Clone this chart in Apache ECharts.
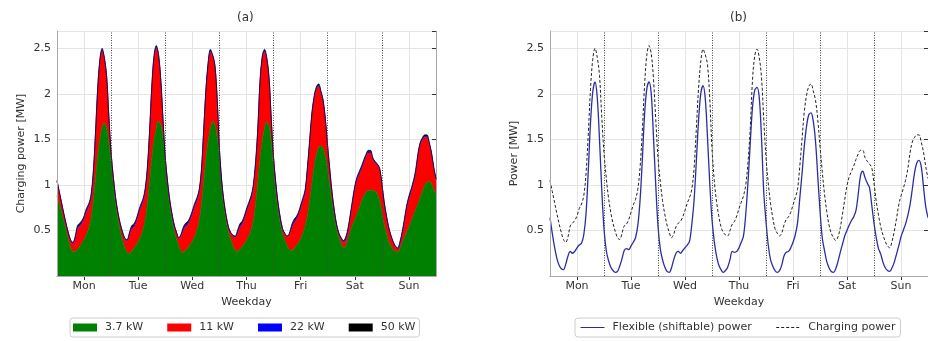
<!DOCTYPE html>
<html>
<head>
<meta charset="utf-8">
<script src="https://cdn.jsdelivr.net/npm/echarts/dist/echarts.min.js"></script>
<style>
  html, body { margin: 0; padding: 0; background: #fff; }
  #chart { width: 928px; height: 341px; }
</style>
</head>
<body>
<div id="chart"></div>
<script>
// one week, hourly values (h = 0 .. 168)
var days = ['Mon', 'Tue', 'Wed', 'Thu', 'Fri', 'Sat', 'Sun'];

// 3.7 kW layer (green)
var p37 = [
  0.88, 0.79, 0.70, 0.60, 0.50, 0.40, 0.31, 0.27, 0.27, 0.29, 0.32, 0.36, 0.40, 0.45, 0.52, 0.62, 0.80, 1.05, 1.30, 1.50, 1.63, 1.68, 1.62, 1.45,
  1.24, 1.00, 0.78, 0.62, 0.50, 0.40, 0.31, 0.26, 0.25, 0.27, 0.30, 0.34, 0.38, 0.43, 0.50, 0.60, 0.78, 1.02, 1.28, 1.48, 1.62, 1.70, 1.66, 1.50,
  1.25, 0.98, 0.76, 0.61, 0.49, 0.40, 0.33, 0.27, 0.26, 0.28, 0.31, 0.34, 0.38, 0.43, 0.50, 0.60, 0.78, 1.02, 1.28, 1.48, 1.62, 1.70, 1.66, 1.52,
  1.30, 0.98, 0.76, 0.60, 0.48, 0.40, 0.33, 0.28, 0.27, 0.29, 0.32, 0.35, 0.39, 0.44, 0.50, 0.60, 0.78, 1.02, 1.28, 1.48, 1.62, 1.69, 1.64, 1.45,
  1.18, 0.92, 0.72, 0.57, 0.46, 0.39, 0.33, 0.29, 0.28, 0.30, 0.33, 0.36, 0.41, 0.47, 0.55, 0.66, 0.82, 1.02, 1.20, 1.33, 1.41, 1.43, 1.40, 1.30,
  1.15, 0.97, 0.80, 0.64, 0.51, 0.42, 0.35, 0.31, 0.33, 0.40, 0.48, 0.56, 0.62, 0.68, 0.75, 0.82, 0.88, 0.92, 0.94, 0.94, 0.94, 0.93, 0.90, 0.82,
  0.70, 0.57, 0.47, 0.38, 0.33, 0.29, 0.27, 0.26, 0.30, 0.36, 0.42, 0.48, 0.54, 0.60, 0.67, 0.73, 0.79, 0.86, 0.93, 0.99, 1.03, 1.04, 1.01, 0.95,
  0.89
];

// 11 kW layer (red), band thickness
var p11 = [
  0.16, 0.13, 0.10, 0.08, 0.07, 0.07, 0.08, 0.08, 0.12, 0.22, 0.22, 0.21, 0.22, 0.25, 0.23, 0.22, 0.28, 0.47, 0.72, 0.85, 0.84, 0.70, 0.56, 0.28,
  0.10, 0.07, 0.07, 0.07, 0.07, 0.08, 0.10, 0.12, 0.18, 0.24, 0.23, 0.24, 0.28, 0.31, 0.30, 0.31, 0.36, 0.53, 0.77, 0.91, 0.88, 0.72, 0.48, 0.20,
  0.04, 0.05, 0.06, 0.06, 0.06, 0.07, 0.08, 0.17, 0.24, 0.26, 0.25, 0.27, 0.30, 0.33, 0.32, 0.31, 0.35, 0.55, 0.74, 0.84, 0.84, 0.71, 0.64, 0.41,
  0.09, 0.06, 0.05, 0.05, 0.05, 0.07, 0.11, 0.14, 0.19, 0.24, 0.24, 0.27, 0.31, 0.33, 0.34, 0.36, 0.43, 0.57, 0.84, 0.91, 0.84, 0.69, 0.52, 0.25,
  0.11, 0.09, 0.07, 0.06, 0.05, 0.07, 0.10, 0.16, 0.24, 0.28, 0.28, 0.30, 0.33, 0.35, 0.36, 0.50, 0.64, 0.75, 0.75, 0.72, 0.67, 0.58, 0.51, 0.40,
  0.26, 0.17, 0.09, 0.06, 0.04, 0.04, 0.06, 0.06, 0.06, 0.09, 0.16, 0.24, 0.33, 0.37, 0.36, 0.35, 0.36, 0.39, 0.41, 0.41, 0.33, 0.31, 0.31, 0.35,
  0.31, 0.24, 0.19, 0.15, 0.11, 0.08, 0.05, 0.03, 0.04, 0.09, 0.17, 0.26, 0.30, 0.32, 0.34, 0.40, 0.52, 0.58, 0.56, 0.53, 0.49, 0.41, 0.33, 0.23,
  0.17
];

// 22 kW layer (blue), band thickness
var p22 = [
  0.005, 0.005, 0.005, 0.005, 0.005, 0.005, 0.005, 0.01, 0.02, 0.02, 0.02, 0.02, 0.02, 0.02, 0.02, 0.02, 0.02, 0.015, 0.015, 0.015, 0.015, 0.01, 0.01, 0.01,
  0.005, 0.005, 0.005, 0.005, 0.005, 0.005, 0.005, 0.01, 0.02, 0.02, 0.02, 0.02, 0.02, 0.02, 0.02, 0.02, 0.02, 0.015, 0.015, 0.015, 0.015, 0.01, 0.01, 0.01,
  0.005, 0.005, 0.005, 0.005, 0.005, 0.005, 0.005, 0.01, 0.02, 0.02, 0.02, 0.02, 0.02, 0.02, 0.02, 0.02, 0.02, 0.015, 0.015, 0.015, 0.015, 0.01, 0.01, 0.01,
  0.005, 0.005, 0.005, 0.005, 0.005, 0.005, 0.005, 0.01, 0.02, 0.02, 0.02, 0.02, 0.02, 0.02, 0.02, 0.02, 0.02, 0.015, 0.015, 0.015, 0.015, 0.01, 0.01, 0.01,
  0.005, 0.005, 0.005, 0.005, 0.005, 0.005, 0.005, 0.01, 0.02, 0.02, 0.02, 0.02, 0.02, 0.02, 0.02, 0.02, 0.02, 0.015, 0.015, 0.015, 0.015, 0.01, 0.01, 0.01,
  0.005, 0.005, 0.005, 0.005, 0.005, 0.005, 0.005, 0.01, 0.02, 0.02, 0.02, 0.02, 0.02, 0.02, 0.02, 0.02, 0.02, 0.015, 0.015, 0.015, 0.015, 0.01, 0.01, 0.01,
  0.005, 0.005, 0.005, 0.005, 0.005, 0.005, 0.005, 0.01, 0.02, 0.02, 0.02, 0.02, 0.02, 0.02, 0.02, 0.02, 0.02, 0.015, 0.015, 0.015, 0.015, 0.01, 0.01, 0.01,
  0.005
];

// 50 kW layer (black), band thickness
var p50 = [
  0.005, 0.005, 0.005, 0.005, 0.005, 0.005, 0.005, 0.01, 0.02, 0.02, 0.02, 0.02, 0.02, 0.02, 0.02, 0.02, 0.02, 0.015, 0.015, 0.015, 0.015, 0.01, 0.01, 0.01,
  0.005, 0.005, 0.005, 0.005, 0.005, 0.005, 0.005, 0.01, 0.02, 0.02, 0.02, 0.02, 0.02, 0.02, 0.02, 0.02, 0.02, 0.015, 0.015, 0.015, 0.015, 0.01, 0.01, 0.01,
  0.005, 0.005, 0.005, 0.005, 0.005, 0.005, 0.005, 0.01, 0.02, 0.02, 0.02, 0.02, 0.02, 0.02, 0.02, 0.02, 0.02, 0.015, 0.015, 0.015, 0.015, 0.01, 0.01, 0.01,
  0.005, 0.005, 0.005, 0.005, 0.005, 0.005, 0.005, 0.01, 0.02, 0.02, 0.02, 0.02, 0.02, 0.02, 0.02, 0.02, 0.02, 0.015, 0.015, 0.015, 0.015, 0.01, 0.01, 0.01,
  0.005, 0.005, 0.005, 0.005, 0.005, 0.005, 0.005, 0.01, 0.02, 0.02, 0.02, 0.02, 0.02, 0.02, 0.02, 0.02, 0.02, 0.015, 0.015, 0.015, 0.015, 0.01, 0.01, 0.01,
  0.005, 0.005, 0.005, 0.005, 0.005, 0.005, 0.005, 0.01, 0.02, 0.02, 0.02, 0.02, 0.02, 0.02, 0.02, 0.02, 0.02, 0.015, 0.015, 0.015, 0.015, 0.01, 0.01, 0.01,
  0.005, 0.005, 0.005, 0.005, 0.005, 0.005, 0.005, 0.01, 0.02, 0.02, 0.02, 0.02, 0.02, 0.02, 0.02, 0.02, 0.02, 0.015, 0.015, 0.015, 0.015, 0.01, 0.01, 0.01,
  0.005
];

// total charging power (dashed, panel b)
var charging = [
  1.05, 0.93, 0.81, 0.69, 0.58, 0.48, 0.40, 0.37, 0.43, 0.55, 0.58, 0.61, 0.66, 0.74, 0.79, 0.88, 1.12, 1.55, 2.05, 2.38, 2.50, 2.40, 2.20, 1.75,
  1.35, 1.08, 0.86, 0.70, 0.58, 0.49, 0.42, 0.40, 0.47, 0.55, 0.57, 0.62, 0.70, 0.78, 0.84, 0.95, 1.18, 1.58, 2.08, 2.42, 2.53, 2.44, 2.16, 1.72,
  1.30, 1.04, 0.83, 0.68, 0.56, 0.48, 0.42, 0.46, 0.54, 0.58, 0.60, 0.65, 0.72, 0.80, 0.86, 0.95, 1.17, 1.60, 2.05, 2.35, 2.49, 2.43, 2.32, 1.95,
  1.40, 1.05, 0.82, 0.66, 0.54, 0.48, 0.45, 0.44, 0.50, 0.57, 0.60, 0.66, 0.74, 0.81, 0.88, 1.00, 1.25, 1.62, 2.15, 2.42, 2.49, 2.40, 2.18, 1.72,
  1.30, 1.02, 0.80, 0.64, 0.52, 0.47, 0.44, 0.47, 0.56, 0.62, 0.65, 0.70, 0.78, 0.86, 0.95, 1.20, 1.50, 1.80, 1.98, 2.08, 2.11, 2.03, 1.93, 1.72,
  1.42, 1.15, 0.90, 0.71, 0.56, 0.47, 0.42, 0.39, 0.43, 0.53, 0.68, 0.84, 0.99, 1.09, 1.15, 1.21, 1.28, 1.34, 1.38, 1.38, 1.30, 1.26, 1.23, 1.19,
  1.02, 0.82, 0.67, 0.54, 0.45, 0.38, 0.33, 0.31, 0.38, 0.49, 0.63, 0.78, 0.88, 0.96, 1.05, 1.17, 1.35, 1.47, 1.52, 1.55, 1.55, 1.47, 1.36, 1.20,
  1.07
];

// flexible (shiftable) power (blue line, panel b)
var flexible = [
  0.64, 0.47, 0.32, 0.20, 0.12, 0.08, 0.07, 0.13, 0.22, 0.27, 0.25, 0.27, 0.31, 0.34, 0.36, 0.45, 0.68, 1.15, 1.68, 2.02, 2.13, 1.96, 1.50, 0.95,
  0.52, 0.28, 0.17, 0.10, 0.06, 0.04, 0.05, 0.11, 0.19, 0.28, 0.30, 0.29, 0.33, 0.37, 0.42, 0.55, 0.82, 1.26, 1.76, 2.05, 2.13, 2.00, 1.52, 1.00,
  0.55, 0.30, 0.18, 0.10, 0.05, 0.04, 0.09, 0.18, 0.25, 0.27, 0.25, 0.28, 0.31, 0.34, 0.38, 0.56, 0.82, 1.24, 1.70, 2.00, 2.09, 1.95, 1.52, 1.02,
  0.62, 0.38, 0.22, 0.12, 0.07, 0.04, 0.06, 0.10, 0.18, 0.27, 0.26, 0.27, 0.31, 0.37, 0.44, 0.68, 1.03, 1.46, 1.85, 2.04, 2.07, 1.96, 1.52, 0.92,
  0.60, 0.34, 0.18, 0.11, 0.06, 0.04, 0.06, 0.12, 0.22, 0.26, 0.27, 0.31, 0.37, 0.45, 0.58, 0.85, 1.12, 1.42, 1.64, 1.77, 1.79, 1.70, 1.48, 1.10,
  0.72, 0.42, 0.28, 0.16, 0.09, 0.05, 0.04, 0.08, 0.16, 0.26, 0.35, 0.44, 0.50, 0.56, 0.61, 0.65, 0.72, 0.90, 1.10, 1.15, 1.08, 1.02, 0.97, 0.78,
  0.58, 0.42, 0.30, 0.24, 0.15, 0.09, 0.06, 0.05, 0.09, 0.15, 0.24, 0.33, 0.43, 0.50, 0.57, 0.66, 0.78, 0.95, 1.13, 1.24, 1.27, 1.20, 0.98, 0.76,
  0.64
];

var FONT = 'DejaVu Sans';
var INK = '#333333';
var FRAME = '#aaaaaa';
var GRIDLINE = '#e4e4e4';
var SMOOTH = 0.35;

var hours = [];
for (var i = 0; i < p37.length; i++) hours.push(String(i));

function isNoon(index) { return index % 24 === 12; }

// day boundaries (midnight) as dotted lines
var boundaries = [];
for (var d = 1; d < days.length; d++) boundaries.push({ xAxis: hours[d * 24] });

function dayLines() {
  return {
    silent: true,
    symbol: 'none',
    label: { show: false },
    lineStyle: { color: '#444', width: 1, type: [1, 1.5] },
    data: boundaries
  };
}

function xAxes(g) {
  return [
    {
      gridIndex: g, type: 'category', data: hours, boundaryGap: false, position: 'bottom', z: 5,
      axisLine: { lineStyle: { color: FRAME } },
      axisTick: { show: false },
      axisLabel: {
        interval: isNoon, color: INK, fontSize: 11, fontFamily: FONT, margin: 5,
        formatter: function(v, idx) { return days[(idx - 12) / 24]; }
      },
      splitLine: { show: false },
      name: 'Weekday', nameLocation: 'middle', nameGap: 19,
      nameTextStyle: { color: INK, fontSize: 11, fontFamily: FONT }
    },
    {
      gridIndex: g, type: 'category', data: hours, boundaryGap: false, position: 'top',
      axisLine: { lineStyle: { color: FRAME } },
      axisTick: { show: true, inside: true, length: 4, interval: isNoon, lineStyle: { color: '#333' } },
      axisLabel: { show: false },
      splitLine: { show: true, interval: isNoon, lineStyle: { color: GRIDLINE } }
    }
  ];
}

function yAxes(g, title) {
  return [
    {
      gridIndex: g, type: 'value', min: 0, max: 2.69, interval: 0.5, position: 'left', z: 5,
      axisLine: { show: true, lineStyle: { color: FRAME } },
      axisTick: { show: false },
      axisLabel: {
        color: INK, fontSize: 11, fontFamily: FONT, margin: 6, showMaxLabel: false,
        formatter: function(v) { return v === 0 ? '' : String(v); }
      },
      splitLine: { show: false },
      name: title, nameLocation: 'middle', nameGap: 30,
      nameTextStyle: { color: INK, fontSize: 11, fontFamily: FONT }
    },
    {
      gridIndex: g, type: 'value', min: 0, max: 2.69, interval: 0.5, position: 'right',
      axisLine: { show: true, lineStyle: { color: FRAME } },
      axisTick: { show: true, inside: true, length: 4, lineStyle: { color: '#333' } },
      axisLabel: { show: false },
      splitLine: { show: true, lineStyle: { color: GRIDLINE } }
    }
  ];
}

function layer(name, data, color, lineWidth) {
  return {
    name: name, type: 'line', xAxisIndex: 0, yAxisIndex: 0, stack: 'power',
    data: data, symbol: 'none', showSymbol: false, smooth: SMOOTH,
    lineStyle: { color: color, width: lineWidth },
    itemStyle: { color: color },
    areaStyle: { color: color, opacity: 1 }
  };
}

var blackLayer = layer('50 kW', p50, '#000000', 0.6);
blackLayer.markLine = dayLines();

var chart = echarts.init(document.getElementById('chart'));
chart.setOption({
  animation: false,
  textStyle: { fontFamily: FONT },
  title: [
    { text: '(a)', left: 232, top: 7, padding: 5,
      textStyle: { fontSize: 12, fontWeight: 'normal', color: INK, fontFamily: FONT } },
    { text: '(b)', left: 725, top: 7, padding: 5,
      textStyle: { fontSize: 12, fontWeight: 'normal', color: INK, fontFamily: FONT } }
  ],
  grid: [
    { left: 57, top: 31, width: 379, height: 245 },
    { left: 550, top: 31, width: 379, height: 245 }
  ],
  xAxis: xAxes(0).concat(xAxes(1)),
  yAxis: yAxes(0, 'Charging power [MW]').concat(yAxes(1, 'Power [MW]')),
  legend: [
    {
      data: ['3.7 kW', '11 kW', '22 kW', '50 kW'],
      left: 70, top: 318, icon: 'rect', itemWidth: 24, itemHeight: 8, itemGap: 24,
      padding: [4, 4, 4, 3], borderColor: '#cccccc', borderWidth: 1, borderRadius: 3,
      textStyle: { color: INK, fontSize: 11, fontFamily: FONT, padding: [0, 0, 0, 3] }
    },
    {
      data: ['Flexible (shiftable) power', 'Charging power'],
      left: 575, top: 318, itemWidth: 24, itemHeight: 10, itemGap: 24,
      padding: [4, 5, 4, 5], borderColor: '#cccccc', borderWidth: 1, borderRadius: 3,
      itemStyle: { opacity: 0 },
      lineStyle: { width: 1 },
      textStyle: { color: INK, fontSize: 11, fontFamily: FONT, padding: [0, 0, 0, 3] }
    }
  ],
  series: [
    layer('3.7 kW', p37, '#008000', 0.8),
    layer('11 kW', p11, '#ff0000', 0.8),
    layer('22 kW', p22, '#0000ff', 0.6),
    blackLayer,
    {
      name: 'Flexible (shiftable) power', type: 'line', xAxisIndex: 2, yAxisIndex: 2,
      data: flexible, symbol: 'none', showSymbol: false, smooth: SMOOTH,
      lineStyle: { color: '#2c2ca2', width: 1.3 },
      itemStyle: { color: '#2c2ca2' },
      markLine: dayLines()
    },
    {
      name: 'Charging power', type: 'line', xAxisIndex: 2, yAxisIndex: 2,
      data: charging, symbol: 'none', showSymbol: false, smooth: SMOOTH,
      lineStyle: { color: '#222222', width: 1, type: [3, 2] },
      itemStyle: { color: '#222222' }
    }
  ]
});
</script>
</body>
</html>
